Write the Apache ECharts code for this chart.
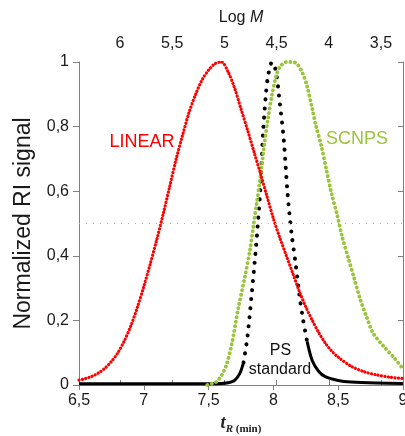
<!DOCTYPE html>
<html>
<head>
<meta charset="utf-8">
<script src="https://cdn.jsdelivr.net/npm/echarts@6/dist/echarts.min.js"></script>
<style>
html,body{margin:0;padding:0;background:#fff;}
#chart{width:405px;height:436px;}
</style>
</head>
<body>
<div id="chart"></div>
<script>
// Retention time (min) and normalized RI signal
const tLinear = [6.5,6.55,6.6,6.65,6.7,6.75,6.8,6.85,6.9,6.95,7.0,7.05,7.1,7.15,7.2,7.25,7.3,7.35,7.4,7.45,7.5,7.55,7.6,7.65,7.7,7.75,7.8,7.85,7.9,7.95,8.0,8.05,8.1,8.15,8.2,8.25,8.3,8.35,8.4,8.45,8.5,8.6,8.7,8.8,8.9,9.0];
const vLinear = [0.015,0.02,0.027,0.037,0.052,0.073,0.10,0.137,0.183,0.24,0.305,0.375,0.45,0.53,0.615,0.70,0.775,0.845,0.90,0.945,0.975,0.995,1.0,0.97,0.92,0.855,0.79,0.722,0.655,0.585,0.515,0.455,0.40,0.345,0.29,0.242,0.20,0.162,0.13,0.105,0.086,0.058,0.041,0.031,0.024,0.02];

const tPS = [6.5,7.0,7.5,7.6,7.65,7.7,7.74,7.77,7.8,7.83,7.86,7.88,7.9,7.92,7.94,7.96,7.99,8.02,8.05,8.08,8.11,8.14,8.17,8.2,8.23,8.26,8.3,8.35,8.4,8.5,8.6,8.8,9.0];
const vPS = [0.004,0.004,0.004,0.005,0.007,0.014,0.035,0.07,0.15,0.27,0.40,0.50,0.61,0.78,0.89,0.96,1.0,0.97,0.87,0.76,0.59,0.47,0.38,0.28,0.20,0.135,0.075,0.042,0.026,0.014,0.009,0.006,0.005];

const tSCNPS = [7.49,7.53,7.56,7.6,7.64,7.68,7.73,7.78,7.82,7.845,7.87,7.9,7.93,7.96,7.99,8.02,8.05,8.1,8.15,8.18,8.22,8.26,8.3,8.33,8.37,8.41,8.45,8.49,8.53,8.58,8.62,8.67,8.72,8.77,8.85,8.93,9.0];
const vSCNPS = [0.0,0.005,0.01,0.03,0.065,0.13,0.24,0.335,0.42,0.49,0.56,0.645,0.745,0.83,0.90,0.955,0.985,1.0,1.0,0.995,0.97,0.925,0.855,0.80,0.74,0.665,0.59,0.53,0.46,0.39,0.335,0.265,0.21,0.16,0.12,0.085,0.05];

const xTicks = [6.5,7,7.5,8,8.5,9];
const yTicks = [0,0.2,0.4,0.6,0.8,1];
const logMTicks = [6,5.5,5,4.5,4,3.5];
const logMRange = [3.289,6.393];

const pairs = (t, v) => t.map((x, i) => [x, v[i]]);
const psAll = pairs(tPS, vPS);
const psLeft = psAll.filter(p => p[0] <= 7.77);
const psPeak = psAll.filter(p => p[0] >= 7.77 && p[0] <= 8.26);
const psRight = psAll.filter(p => p[0] >= 8.26);

const comma = v => String(Math.round(v * 10) / 10).replace('.', ',');
const FONT = "'Liberation Sans', Arial, sans-serif";
const AXC = '#808080';

const chart = echarts.init(document.getElementById('chart'), null, {renderer: 'canvas'});
chart.setOption({
  animation: false,
  backgroundColor: '#fff',
  grid: {left: 79, right: 2, top: 62, bottom: 51, containLabel: false, outerBoundsMode: 'none'},
  xAxis: [{
    type: 'value', position: 'bottom',
    min: xTicks[0], max: xTicks[xTicks.length - 1], interval: 0.5,
    axisLine: {show: true, lineStyle: {color: AXC, width: 1}},
    axisTick: {show: true, inside: false, length: 5, lineStyle: {color: AXC}},
    axisLabel: {show: true, margin: 8, fontSize: 16, color: '#1a1a1a', fontFamily: FONT, formatter: comma},
    splitLine: {show: false},
    name: '{t|t}{r|R}{m| (min)}',
    nameLocation: 'middle', nameGap: 28,
    nameTextStyle: {
      rich: {
        t: {fontFamily: "'Liberation Serif', serif", fontStyle: 'italic', fontWeight: 'bold', fontSize: 18, color: '#222', verticalAlign: 'bottom'},
        r: {fontFamily: "'Liberation Serif', serif", fontStyle: 'italic', fontWeight: 'bold', fontSize: 11, color: '#222', verticalAlign: 'bottom', padding: [0,0,-3,0]},
        m: {fontFamily: "'Liberation Serif', serif", fontWeight: 'bold', fontSize: 11, color: '#222', verticalAlign: 'bottom', padding: [0,0,-3,0]}
      }
    }
  }, {
    type: 'value', position: 'top',
    min: logMRange[0], max: logMRange[1], inverse: true, splitNumber: 6,
    axisLine: {show: true, lineStyle: {color: AXC, width: 1}},
    axisTick: {show: true, inside: false, length: 5, lineStyle: {color: AXC}},
    axisLabel: {show: true, margin: 10, fontSize: 16, color: '#1a1a1a', fontFamily: FONT,
      showMinLabel: false, showMaxLabel: false,
      formatter: v => logMTicks.some(k => Math.abs(k - v) < 1e-6) ? comma(v) : ''},
    splitLine: {show: false},
    name: '{a|Log }{b|M}',
    nameLocation: 'middle', nameGap: 36,
    nameTextStyle: {
      rich: {
        a: {fontFamily: FONT, fontSize: 16, color: '#1a1a1a'},
        b: {fontFamily: FONT, fontSize: 16, fontStyle: 'italic', color: '#1a1a1a'}
      }
    }
  }],
  yAxis: [{
    type: 'value', position: 'left', min: 0, max: 1, interval: 0.2,
    axisLine: {show: true, lineStyle: {color: AXC, width: 1}},
    axisTick: {show: true, inside: false, length: 6, lineStyle: {color: AXC}},
    axisLabel: {show: true, margin: 10, fontSize: 16, color: '#1a1a1a', fontFamily: FONT, formatter: comma},
    splitLine: {show: false},
    name: 'Normalized RI signal', nameLocation: 'middle', nameRotate: 90, nameGap: 44,
    nameTextStyle: {fontFamily: FONT, fontSize: 23, color: '#1a1a1a'}
  }, {
    type: 'value', position: 'right', min: 0, max: 1, interval: 0.2,
    axisLine: {show: true, lineStyle: {color: AXC, width: 1}},
    axisTick: {show: true, inside: true, length: 5, lineStyle: {color: AXC}},
    axisLabel: {show: false},
    splitLine: {show: false}
  }],
  series: [
    {type: 'line', name: 'PS left', data: psLeft, xAxisIndex: 0, yAxisIndex: 0, smooth: 0.3, symbol: 'none',
      lineStyle: {color: '#000', width: 3}, z: 2},
    {type: 'line', name: 'PS standard', data: psPeak, xAxisIndex: 0, yAxisIndex: 0, smooth: 0.3, symbol: 'none',
      lineStyle: {color: '#000', width: 4, type: [0.1, 9], cap: 'round'}, z: 2},
    {type: 'line', name: 'PS right', data: psRight, xAxisIndex: 0, yAxisIndex: 0, smooth: 0.3, symbol: 'none',
      lineStyle: {color: '#000', width: 3}, z: 2},
    {type: 'line', name: 'SCNPS', data: pairs(tSCNPS, vSCNPS), xAxisIndex: 0, yAxisIndex: 0, smooth: 0.3, symbol: 'none',
      lineStyle: {color: '#9ac43c', width: 3.8, type: [0.1, 4.5], cap: 'round'}, z: 3},
    {type: 'line', name: 'LINEAR', data: pairs(tLinear, vLinear), xAxisIndex: 0, yAxisIndex: 0, smooth: 0.3, symbol: 'none',
      lineStyle: {color: '#ff0000', width: 3.2, type: [0.1, 3.3], cap: 'round'}, z: 4,
      markLine: {silent: true, symbol: ['none', 'none'], label: {show: false},
        lineStyle: {color: '#b5b5b5', width: 1, type: [1, 6]}, data: [{yAxis: 0.5}]}}
  ],
  graphic: [
    {type: 'text', x: 142, y: 142.5, style: {text: 'LINEAR', fill: '#ff0000', font: "18px 'Liberation Sans', Arial", align: 'center', verticalAlign: 'middle'}},
    {type: 'text', x: 357, y: 139.5, style: {text: 'SCNPS', fill: '#9ac43c', font: "18px 'Liberation Sans', Arial", align: 'center', verticalAlign: 'middle'}},
    {type: 'text', x: 280.5, y: 351, style: {text: 'PS', fill: '#111', font: "16px 'Liberation Sans', Arial", align: 'center', verticalAlign: 'middle'}},
    {type: 'text', x: 280, y: 369.5, style: {text: 'standard', fill: '#111', font: "16px 'Liberation Sans', Arial", align: 'center', verticalAlign: 'middle'}}
  ]
});
</script>
</body>
</html>
